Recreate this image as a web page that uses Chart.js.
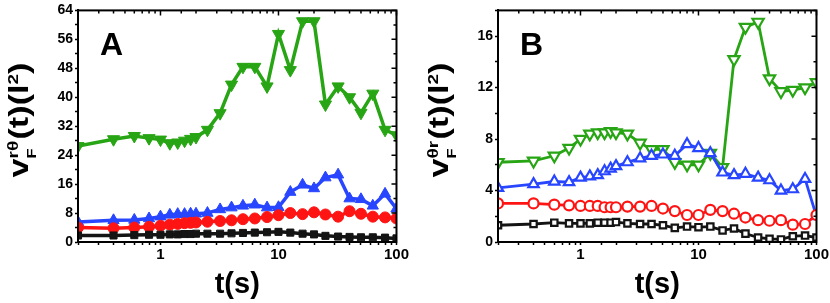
<!DOCTYPE html>
<html>
<head>
<meta charset="utf-8">
<script src="https://cdn.jsdelivr.net/npm/chart.js@4/dist/chart.umd.min.js"></script>
<style>
  html, body { margin: 0; padding: 0; background: #fff; }
  .wrap { position: relative; width: 830px; height: 303px; }
  .panel { position: absolute; top: 0; width: 410px; height: 303px; }
</style>
</head>
<body>
<div class="wrap">
  <div class="panel" style="left:0"><canvas id="chartA" width="410" height="303"></canvas></div>
  <div class="panel" style="left:420px"><canvas id="chartB" width="410" height="303"></canvas></div>
</div>
<script>
// time points (s)
const times = [0.2, 0.4, 0.6, 0.8, 1.0, 1.2, 1.4, 1.6, 1.8, 2.0, 2.5, 3.2, 4, 5, 6.3, 8, 10, 12.6, 16, 20, 25, 32, 40, 50, 63, 80, 100];
const xTickLabels = [1, 10, 100];

// panel A values
const greenA = [26.5, 28.4, 29.3, 28.7, 28.3, 27.3, 27.5, 28, 28.5, 29, 31, 35.6, 43.5, 48.4, 48.4, 43, 57.5, 47.5, 61, 61, 38, 43, 40, 35.7, 41, 31, 29.5];
const blueA = [5.5, 6, 6.1, 6.5, 7, 7.5, 7.7, 7.7, 7.8, 7.8, 8, 9, 9.5, 10, 10.3, 9.5, 9.6, 13.8, 15.8, 14.8, 17.8, 18.6, 12, 11.8, 10, 13.3, 9.2];
const redA = [4, 3.8, 4, 4.2, 4.5, 4.8, 5, 5.2, 5.3, 5.4, 5.6, 5.8, 6, 6.3, 6.5, 6.9, 7.4, 8, 7.7, 8.2, 7.6, 7, 8.5, 7.8, 7, 6.8, 6.5];
const blackA = [1.8, 1.8, 1.9, 2, 2, 2.1, 2.1, 2.2, 2.2, 2.3, 2.3, 2.3, 2.4, 2.5, 2.6, 2.7, 2.8, 2.6, 2.3, 2.1, 1.7, 1.5, 1.4, 1.3, 1.3, 1.2, 1.0];
const yTickLabelsA = [0, 8, 16, 24, 32, 40, 48, 56, 64];

// panel B values
const greenB = [6.2, 6.3, 6.7, 7.3, 8, 8.4, 8.5, 8.5, 8.6, 8.5, 8.4, 7.7, 7.2, 7.2, 6.2, 6.0, 6.0, 6.9, 5.8, 14.2, 16.7, 17.1, 12.7, 11.7, 11.8, 12, 12.4];
const blueB = [4.2, 4.5, 4.7, 4.65, 5, 5.1, 5.2, 5.5, 5.7, 5.9, 6.2, 6.5, 6.7, 6.8, 6.7, 7.6, 7.3, 6.9, 5.4, 5.2, 5.3, 5.0, 4.8, 4.0, 4.1, 4.9, 2.0];
const redB = [3.0, 3.0, 2.9, 2.85, 2.8, 2.8, 2.8, 2.7, 2.7, 2.7, 2.75, 2.75, 2.8, 2.6, 2.4, 2.1, 2.1, 2.5, 2.4, 2.2, 1.9, 1.7, 1.65, 1.7, 1.35, 1.4, 2.1];
const blackB = [1.3, 1.4, 1.5, 1.45, 1.45, 1.45, 1.5, 1.5, 1.5, 1.55, 1.45, 1.4, 1.4, 1.3, 1.1, 1.2, 1.15, 1.2, 0.9, 1.05, 0.65, 0.35, 0.25, 0.2, 0.45, 0.5, 0.35];
const yTickLabelsB = [0, 4, 8, 12, 16];

const FONT = "'Liberation Sans', Arial, sans-serif";
const GREEN = 'rgb(40,165,20)';
const BLUE = 'rgb(40,70,255)';
const RED = 'rgb(255,20,20)';
const BLACK = 'rgb(20,20,20)';

const pts = vals => vals.map((v, i) => ({ x: times[i], y: v }));
const isDecade = v => v >= 1 && Math.abs(Math.log10(v) - Math.round(Math.log10(v))) < 1e-6;

function series(vals, color, style, filled, rot, radius) {
  return {
    data: pts(vals),
    borderColor: color,
    backgroundColor: filled ? color : '#fff',
    pointBackgroundColor: filled ? color : '#fff',
    pointBorderColor: color,
    pointStyle: style,
    pointRotation: rot || 0,
    pointRadius: radius,
    pointBorderWidth: filled ? 1 : 2.2,
    borderWidth: filled ? 3.5 : 2.8,
    tension: 0
  };
}

// frame, inward top/right ticks, panel letter and y title
const decor = {
  id: 'decor',
  afterDraw(chart, args, opts) {
    const { ctx, chartArea: a, scales } = chart;
    ctx.save();
    ctx.strokeStyle = '#000';
    ctx.lineWidth = 2;
    ctx.strokeRect(a.left, a.top, a.right - a.left, a.bottom - a.top);
    ctx.lineWidth = 1.5;
    ctx.beginPath();
    scales.x.ticks.forEach(t => {
      const px = scales.x.getPixelForValue(t.value);
      const len = isDecade(t.value) ? 5 : 3;
      ctx.moveTo(px, a.top); ctx.lineTo(px, a.top + len);
    });
    scales.y.ticks.forEach(t => {
      const py = scales.y.getPixelForValue(t.value);
      const len = opts.labels.includes(t.value) ? 5 : 3;
      ctx.moveTo(a.right, py); ctx.lineTo(a.right - len, py);
    });
    ctx.stroke();

    ctx.fillStyle = '#000';
    ctx.textBaseline = 'alphabetic';
    ctx.font = 'bold 32px ' + FONT;
    ctx.fillText(opts.letter, a.left + 22, a.top + 45);

    // y axis title v_F^{..}(t)(l^2)
    const big = 'bold 27px ' + FONT, sup = 'bold 15px ' + FONT, sub = 'bold 13px ' + FONT;
    const w = (f, s) => { ctx.font = f; return ctx.measureText(s).width; };
    const wv = w(big, 'v'), ws = w(sup, opts.sup), wf = w(sub, 'F');
    const wm = w(big, '(t)(l'), w2 = w(sup, '2'), wc = w(big, ')');
    const total = wv + Math.max(ws, wf) + 1 + wm + w2 + wc;
    const k = 115 / total;
    ctx.translate(28, 120);
    ctx.rotate(-Math.PI / 2);
    ctx.scale(k, 1);
    let x = -total / 2;
    ctx.font = big; ctx.fillText('v', x, 0); x += wv;
    ctx.font = sup; ctx.fillText(opts.sup, x, -10);
    ctx.font = sub; ctx.fillText('F', x, 8);
    x += Math.max(ws, wf) + 1;
    ctx.font = big; ctx.fillText('(t)(l', x, 0); x += wm;
    ctx.font = sup; ctx.fillText('2', x, -10); x += w2;
    ctx.font = big; ctx.fillText(')', x, 0);
    ctx.restore();
  }
};

function makeChart(id, datasets, yMax, yStep, yLabels, letter, supText, padTop, padRight) {
  return new Chart(document.getElementById(id), {
    type: 'line',
    data: { datasets },
    options: {
      responsive: false,
      animation: false,
      layout: { padding: { top: padTop, right: padRight, left: 0, bottom: 0 } },
      plugins: {
        legend: { display: false },
        tooltip: { enabled: false },
        decor: { letter, sup: supText, labels: yLabels }
      },
      scales: {
        x: {
          type: 'logarithmic',
          min: 0.2,
          max: 100,
          afterFit: s => { s.height = 61; },
          border: { display: true, color: '#000', width: 2 },
          grid: {
            drawOnChartArea: false,
            color: '#000',
            tickWidth: 1.5,
            tickLength: c => (c.tick && isDecade(c.tick.value) ? 5 : 3)
          },
          ticks: {
            autoSkip: false,
            maxRotation: 0,
            padding: 1,
            color: '#000',
            font: { family: FONT, size: 15, weight: 'bold' },
            callback: v => (xTickLabels.some(t => Math.abs(t - v) < 1e-6) ? String(Math.round(v)) : '')
          },
          title: {
            display: true,
            text: 't(s)',
            color: '#000',
            font: { family: FONT, size: 29, weight: 'bold' },
            padding: { top: 0, bottom: 1 }
          }
        },
        y: {
          min: 0,
          max: yMax,
          afterFit: s => { s.width = 78; },
          border: { display: true, color: '#000', width: 2 },
          grid: {
            drawOnChartArea: false,
            color: '#000',
            tickWidth: 1.5,
            tickLength: c => (c.tick && yLabels.includes(c.tick.value) ? 5 : 3)
          },
          ticks: {
            stepSize: yStep,
            autoSkip: false,
            padding: 2,
            color: '#000',
            font: { family: FONT, size: 14, weight: 'bold' },
            callback: v => (yLabels.includes(v) ? String(v) : '')
          }
        }
      }
    },
    plugins: [decor]
  });
}

makeChart('chartA', [
  series(blackA, BLACK, 'rect', true, 0, 5),
  series(redA, RED, 'circle', true, 0, 5.5),
  series(blueA, BLUE, 'triangle', true, 0, 6.5),
  series(greenA, GREEN, 'triangle', true, 180, 7)
], 64, 4, yTickLabelsA, 'A', 'r\u03B8', 8, 12);

makeChart('chartB', [
  series(blackB, BLACK, 'rect', false, 0, 4.5),
  series(redB, RED, 'circle', false, 0, 5),
  series(blueB, BLUE, 'triangle', false, 0, 6),
  series(greenB, GREEN, 'triangle', false, 180, 6.5)
], 18, 2, yTickLabelsB, 'B', '\u03B8r', 7, 13);
</script>
</body>
</html>
